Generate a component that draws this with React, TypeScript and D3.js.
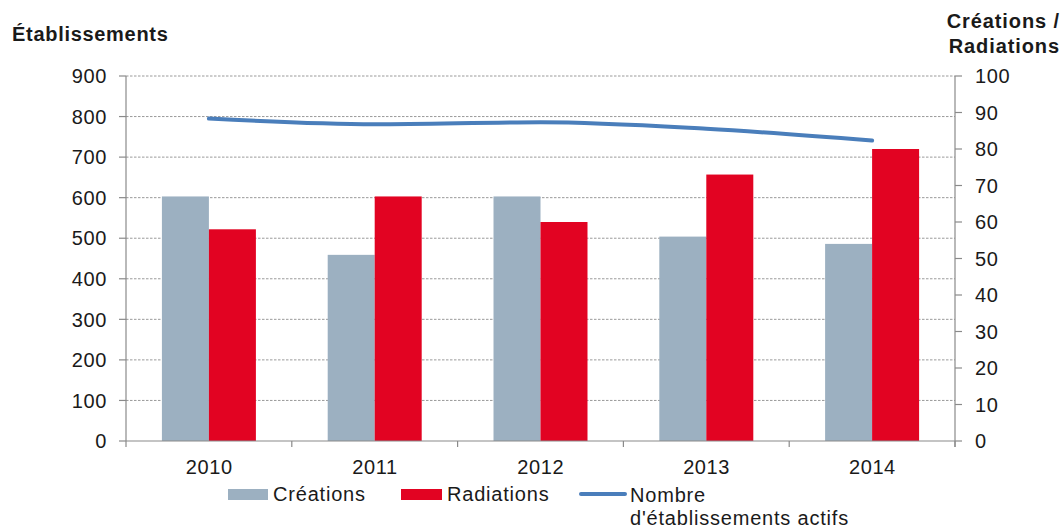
import React from "react";
import * as d3 from "d3";

const years = ["2010", "2011", "2012", "2013", "2014"];
const creations = [67, 51, 67, 56, 54];
const radiations = [58, 67, 60, 73, 80];
const etablissements = [795, 781, 786, 770, 741];
const leftTicks = [0, 100, 200, 300, 400, 500, 600, 700, 800, 900];
const rightTicks = [0, 10, 20, 30, 40, 50, 60, 70, 80, 90, 100];

const W = 1062;
const H = 529;
const X0 = 126;
const X1 = 955;
const Y0 = 441;
const Y1 = 76;
const FONT = "'Liberation Sans', Arial, Helvetica, sans-serif";
const C_CRE = "#9cb0c1";
const C_RAD = "#e20322";
const C_LINE = "#4a7ebb";
const TXT = "#1a1a1a";

export default function App() {
  const x = d3.scaleBand<string>().domain(years).range([X0, X1]).paddingInner(0).paddingOuter(0);
  const inner = d3
    .scaleBand<string>()
    .domain(["c", "r"])
    .range([0, x.bandwidth()])
    .paddingInner(0)
    .paddingOuter(0.764);
  const yL = d3.scaleLinear().domain([0, 900]).range([Y0, Y1]);
  const yR = d3.scaleLinear().domain([0, 100]).range([Y0, Y1]);

  const line = d3
    .line<number>()
    .x((_, i) => (x(years[i]) as number) + x.bandwidth() / 2)
    .y((d) => yL(d))
    .curve(d3.curveMonotoneX);

  const boundaries = [...years.map((y) => x(y) as number), X1];

  return (
    <svg
      width={W}
      height={H}
      style={{ position: "absolute", left: 0, top: 0, background: "#fff" }}
      fontFamily={FONT}
    >
      {leftTicks.slice(1).map((t) => (
        <line
          key={"g" + t}
          x1={X0}
          x2={X1}
          y1={yL(t)}
          y2={yL(t)}
          stroke="#9a9a9a"
          strokeWidth={1}
          strokeDasharray="2.5,1.5"
        />
      ))}
      {years.map((yr, i) => {
        const bx = x(yr) as number;
        return (
          <g key={yr}>
            <rect
              x={bx + (inner("c") as number)}
              y={yR(creations[i])}
              width={inner.bandwidth()}
              height={Y0 - yR(creations[i])}
              fill={C_CRE}
            />
            <rect
              x={bx + (inner("r") as number)}
              y={yR(radiations[i])}
              width={inner.bandwidth()}
              height={Y0 - yR(radiations[i])}
              fill={C_RAD}
            />
          </g>
        );
      })}
      <path d={line(etablissements) || ""} fill="none" stroke={C_LINE} strokeWidth={4} strokeLinecap="round" />
      <line x1={X0} x2={X0} y1={Y1} y2={Y0} stroke="#8a8a8a" strokeWidth={1.2} />
      <line x1={X1} x2={X1} y1={Y1} y2={Y0 + 6} stroke="#8a8a8a" strokeWidth={1.2} />
      <line x1={X0} x2={X1} y1={Y0} y2={Y0} stroke="#8a8a8a" strokeWidth={1.2} />
      {leftTicks.map((t) => (
        <g key={"l" + t}>
          <line x1={X0 - 7} x2={X0} y1={yL(t)} y2={yL(t)} stroke="#8a8a8a" strokeWidth={1.2} />
          <text x={107} y={yL(t)} dy="0.36em" textAnchor="end" fontSize={20} letterSpacing={0.6} fill={TXT}>
            {t}
          </text>
        </g>
      ))}
      {rightTicks.map((t) => (
        <g key={"r" + t}>
          <line x1={X1} x2={X1 + 7} y1={yR(t)} y2={yR(t)} stroke="#8a8a8a" strokeWidth={1.2} />
          <text x={975} y={yR(t)} dy="0.36em" textAnchor="start" fontSize={20} letterSpacing={0.6} fill={TXT}>
            {t}
          </text>
        </g>
      ))}
      {boundaries.map((b, i) => (
        <line key={"b" + i} x1={b} x2={b} y1={Y0} y2={Y0 + 6} stroke="#8a8a8a" strokeWidth={1.2} />
      ))}
      {years.map((yr) => (
        <text
          key={"t" + yr}
          x={(x(yr) as number) + x.bandwidth() / 2 + 0.3}
          y={474}
          textAnchor="middle"
          fontSize={20}
          letterSpacing={0.6}
          fill={TXT}
        >
          {yr}
        </text>
      ))}
      <text x={12} y={41} fontSize={20} fontWeight="bold" letterSpacing={0.7} fill={TXT}>
        Établissements
      </text>
      <text x={1060} y={28} fontSize={20} fontWeight="bold" letterSpacing={0.9} textAnchor="end" fill={TXT}>
        Créations /
      </text>
      <text x={1060} y={53} fontSize={20} fontWeight="bold" letterSpacing={0.9} textAnchor="end" fill={TXT}>
        Radiations
      </text>
      <rect x={228} y={489} width={40} height={11} fill={C_CRE} />
      <text x={273} y={501} fontSize={20} letterSpacing={0.8} fill={TXT}>
        Créations
      </text>
      <rect x={401} y={489} width={41} height={11} fill={C_RAD} />
      <text x={447} y={501} fontSize={20} letterSpacing={0.8} fill={TXT}>
        Radiations
      </text>
      <line x1={581} x2={625} y1={494} y2={494} stroke={C_LINE} strokeWidth={4} strokeLinecap="round" />
      <text x={630} y={502} fontSize={20} letterSpacing={0.8} fill={TXT}>
        Nombre
      </text>
      <text x={630} y={525} fontSize={20} letterSpacing={0.8} fill={TXT}>
        d'établissements actifs
      </text>
    </svg>
  );
}
